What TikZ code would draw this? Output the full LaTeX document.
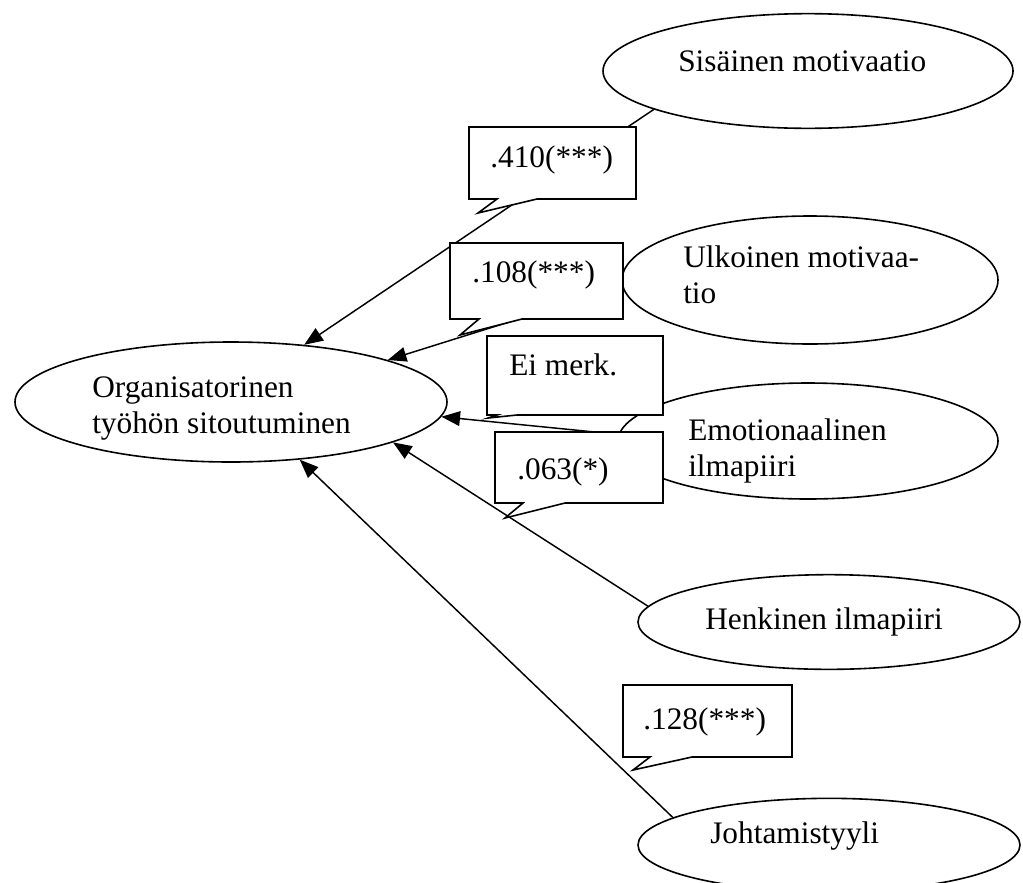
\documentclass[tikz,border=0pt]{standalone}
\usepackage{fontspec}
\setmainfont{Liberation Serif}
\usetikzlibrary{shapes.geometric,arrows.meta}
\begin{document}
\begin{tikzpicture}[x=0.75pt,y=-0.75pt,
  oval/.style={draw, ellipse, line width=1.2pt, inner sep=0pt, fill=white},
  lbl/.style={font=\fontsize{23.5}{26.5}\selectfont, inner sep=0pt, anchor=base west, align=left},
  link/.style={line width=1.1pt, -{Triangle[length=14pt,width=11pt]}},
  callout/.style={draw, line width=1.2pt, fill=white, line join=miter}]
\useasboundingbox (0,0) rectangle (1023,882);
% ellipses
\node[oval, minimum width=324pt, minimum height=90pt] (main) at (231,402) {};
\node[oval, minimum width=307.5pt, minimum height=86pt] (sis) at (808,71) {};
\node[oval, minimum width=282pt, minimum height=96pt] (ulk) at (810,280) {};
\node[oval, minimum width=285pt, minimum height=87pt] (emo) at (808,441) {};
\node[oval, minimum width=286.5pt, minimum height=71pt] (hen) at (829,622) {};
\node[oval, minimum width=286.5pt, minimum height=70pt] (joh) at (829,845) {};
% ellipse texts (base = baseline of the last line)
\node[lbl] (mainT) at (92,433) {Organisatorinen\\työhön sitoutuminen};
\node[lbl] (sisT) at (678,71) {Sisäinen motivaatio};
\node[lbl] (ulkT) at (683,303) {Ulkoinen motivaa-\\tio};
\node[lbl] (emoT) at (688,476) {Emotionaalinen\\ilmapiiri};
\node[lbl] (henT) at (705,629) {Henkinen ilmapiiri};
\node[lbl] (johT) at (710,843) {Johtamistyyli};
% connectors
\draw[link] (sis.194) -- (main.38);
\draw[link] (ulk.182) -- (main.15.5);
\draw[link] (emo.178) -- (main.-4);
\draw[link] (hen.175) -- (main.-14);
\draw[link] (joh.170) -- (main.-40);
% callouts
\draw[callout] (469,127) -- (636,127) -- (636,199) -- (537,199) -- (478,213) -- (497,199) -- (469,199) -- cycle;
\node[lbl] (c1T) at (490,167) {.410(***)};
\draw[callout] (450,243) -- (623,243) -- (623,319) -- (522,319) -- (460,335) -- (479,319) -- (450,319) -- cycle;
\node[lbl] (c2T) at (472,282) {.108(***)};
\draw[callout] (487,336) -- (663,336) -- (663,415) -- (517,415) -- (488,418) -- (497,415) -- (487,415) -- cycle;
\node[lbl] (c3T) at (509,375) {Ei merk.};
\draw[callout] (495,432) -- (663,432) -- (663,503) -- (565,503) -- (505,518) -- (523,503) -- (495,503) -- cycle;
\node[lbl] (c4T) at (517,479) {.063(*)};
\draw[callout] (623,685) -- (792,685) -- (792,757) -- (692,757) -- (633,770) -- (650,757) -- (623,757) -- cycle;
\node[lbl] (c5T) at (643,729) {.128(***)};
\end{tikzpicture}
\end{document}
